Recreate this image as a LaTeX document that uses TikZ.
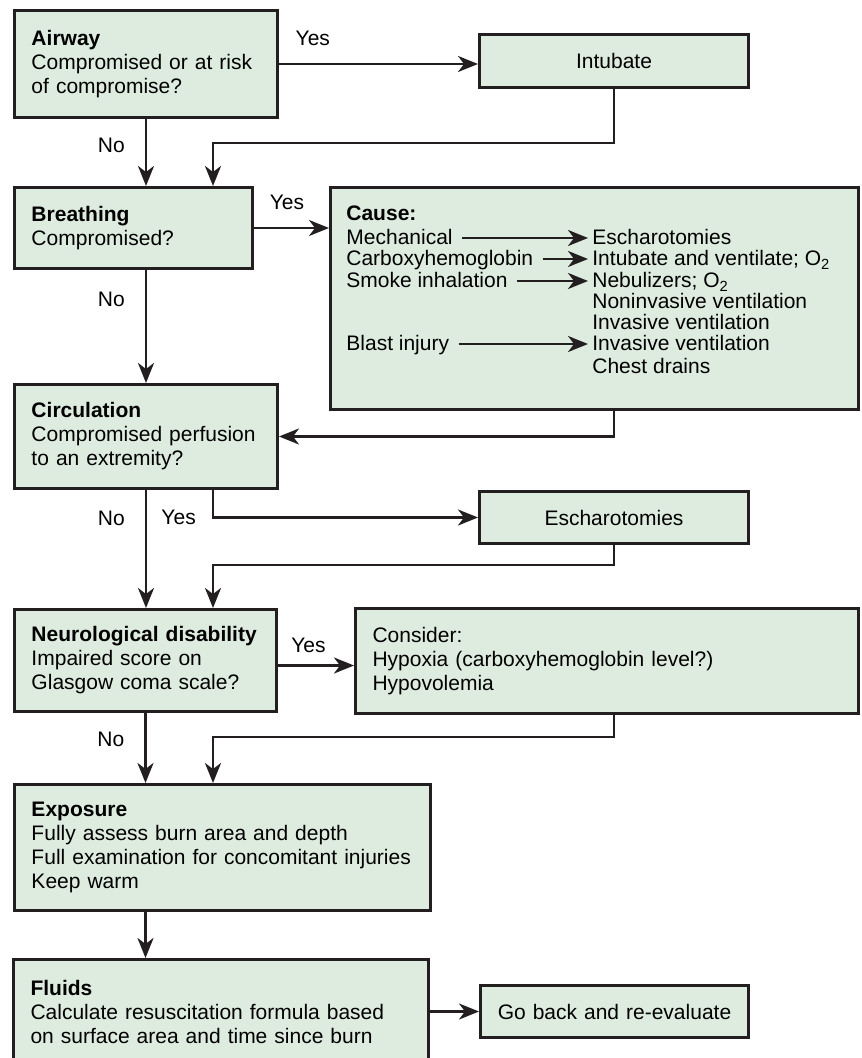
\documentclass[tikz,border=0pt]{standalone}
\usepackage{fontspec}
\setmainfont{Liberation Sans}
\usetikzlibrary{arrows.meta}
\definecolor{boxfill}{RGB}{222,236,224}
\definecolor{edge}{RGB}{35,31,32}
\tikzset{
    flowbox/.style={draw=edge, fill=boxfill, line width=1.5pt, anchor=north west, align=left, inner xsep=8.5pt, inner ysep=0pt},
    cflowbox/.style={flowbox, align=center},
    conn/.style={draw=edge, line width=1.25pt},
    cline/.style={anchor=west, inner sep=0pt, text height=8.5pt, text depth=1.5pt},
    lbl/.style={inner sep=1pt}
}
\begin{document}
\begin{tikzpicture}[x=0.5pt, y=-0.5pt, >={Stealth[length=10pt,width=8pt,inset=3pt]}, font=\fontsize{10.5pt}{12pt}\selectfont]
\useasboundingbox (0,0) rectangle (861,1058);

\node[flowbox, text width=114.5pt, minimum height=53.5pt] (airway) at (13,9) {\textbf{Airway}\\Compromised or at risk\\of compromise?};
\node[cflowbox, text width=117.5pt, minimum height=26.5pt] (intubate) at (478,33) {Intubate};
\node[flowbox, text width=102pt, minimum height=40.5pt] (breathing) at (13,186) {\textbf{Breathing}\\Compromised?};
\node[flowbox, text width=247pt, minimum height=111pt] (cause) at (329,186) {};
\node[flowbox, text width=114.5pt, minimum height=52pt] (circulation) at (13,383) {\textbf{Circulation}\\Compromised perfusion\\to an extremity?};
\node[cflowbox, text width=117.5pt, minimum height=26pt] (escharo) at (478,490) {Escharotomies};
\node[flowbox, text width=114pt, minimum height=51pt] (neuro) at (13,608) {\textbf{Neurological disability}\\Impaired score on\\Glasgow coma scale?};
\node[flowbox, text width=234.5pt, minimum height=52.5pt] (consider) at (354,607) {Consider:\\Hypoxia (carboxyhemoglobin level?)\\Hypovolemia};
\node[flowbox, text width=191pt, minimum height=63pt] (exposure) at (13,783) {\textbf{Exposure}\\Fully assess burn area and depth\\Full examination for concomitant injuries\\Keep warm};
\node[flowbox, text width=190.5pt, minimum height=52pt] (fluids) at (12,958) {\textbf{Fluids}\\Calculate resuscitation formula based\\on surface area and time since burn};
\node[cflowbox, text width=117pt, minimum height=26pt] (reeval) at (479,984) {Go back and re-evaluate};

\node[cline] (causettl) at (346,214) {\textbf{Cause:}};
\node[cline] (mech) at (346,238) {Mechanical};
\node[cline] (carboxy) at (346,259) {Carboxyhemoglobin};
\node[cline] (smoke) at (346,281) {Smoke inhalation};
\node[cline] (blast) at (346,344) {Blast injury};
\node[cline] (rescha) at (592,238) {Escharotomies};
\node[cline] (rintub) at (592,259) {Intubate and ventilate; O\textsubscript{2}};
\node[cline] (rnebul) at (592,281) {Nebulizers; O\textsubscript{2}};
\node[cline] (rnoninv) at (592,302) {Noninvasive ventilation};
\node[cline] (rinv) at (592,323) {Invasive ventilation};
\node[cline] (rinvb) at (592,344) {Invasive ventilation};
\node[cline] (rchest) at (592,366) {Chest drains};

\foreach \a/\b in {mech/rescha, carboxy/rintub, smoke/rnebul, blast/rinvb}
{
    \draw[conn, ->, shorten <=4.5pt, shorten >=2pt] (\a) -- (\b);
}

\coordinate (j1) at (213,143);
\coordinate (j2) at (213,565);
\coordinate (j3) at (213,737);

\draw[conn, ->] (airway.east) -- node[lbl, pos=.17, anchor=base, yshift=9pt]{Yes} (intubate.west |- airway.east);
\draw[conn, ->] (airway.south) -- node[lbl, pos=.39, left=9pt]{No} (airway.south |- breathing.north);
\draw[conn, ->] (intubate.south) |- (j1) -- (j1 |- breathing.north);
\draw[conn, ->] (breathing.east) -- node[lbl, pos=.44, anchor=base, yshift=9pt]{Yes} (cause.west |- breathing.east);
\draw[conn, ->] (airway.south |- breathing.south) -- node[lbl, pos=.26, left=9pt]{No} (airway.south |- circulation.north);
\draw[conn, ->] (cause.south -| intubate.south) |- (circulation.east);
\draw[conn, ->] (circulation.south) -- node[lbl, pos=.24, left=9pt]{No} (circulation.south |- neuro.north);
\draw[conn, ->] (j1 |- circulation.south) |- node[lbl, pos=.5, left=7pt]{Yes} (escharo.west);
\draw[conn, ->] (escharo.south) |- (j2) -- (j2 |- neuro.north);
\draw[conn, ->] ([yshift=-2.5pt]neuro.east) -- node[lbl, pos=.4, anchor=base, yshift=6.75pt]{Yes} ([yshift=-2.5pt]neuro.east -| consider.west);
\draw[conn, ->] (neuro.south) -- node[lbl, pos=.37, left=9pt]{No} (neuro.south |- exposure.north);
\draw[conn, ->] (consider.south -| intubate.south) |- (j3) -- (j3 |- exposure.north);
\draw[conn, ->] (neuro.south |- exposure.south) -- (neuro.south |- fluids.north);
\draw[conn, ->] (fluids.east) -- (reeval.west |- fluids.east);
\end{tikzpicture}
\end{document}
